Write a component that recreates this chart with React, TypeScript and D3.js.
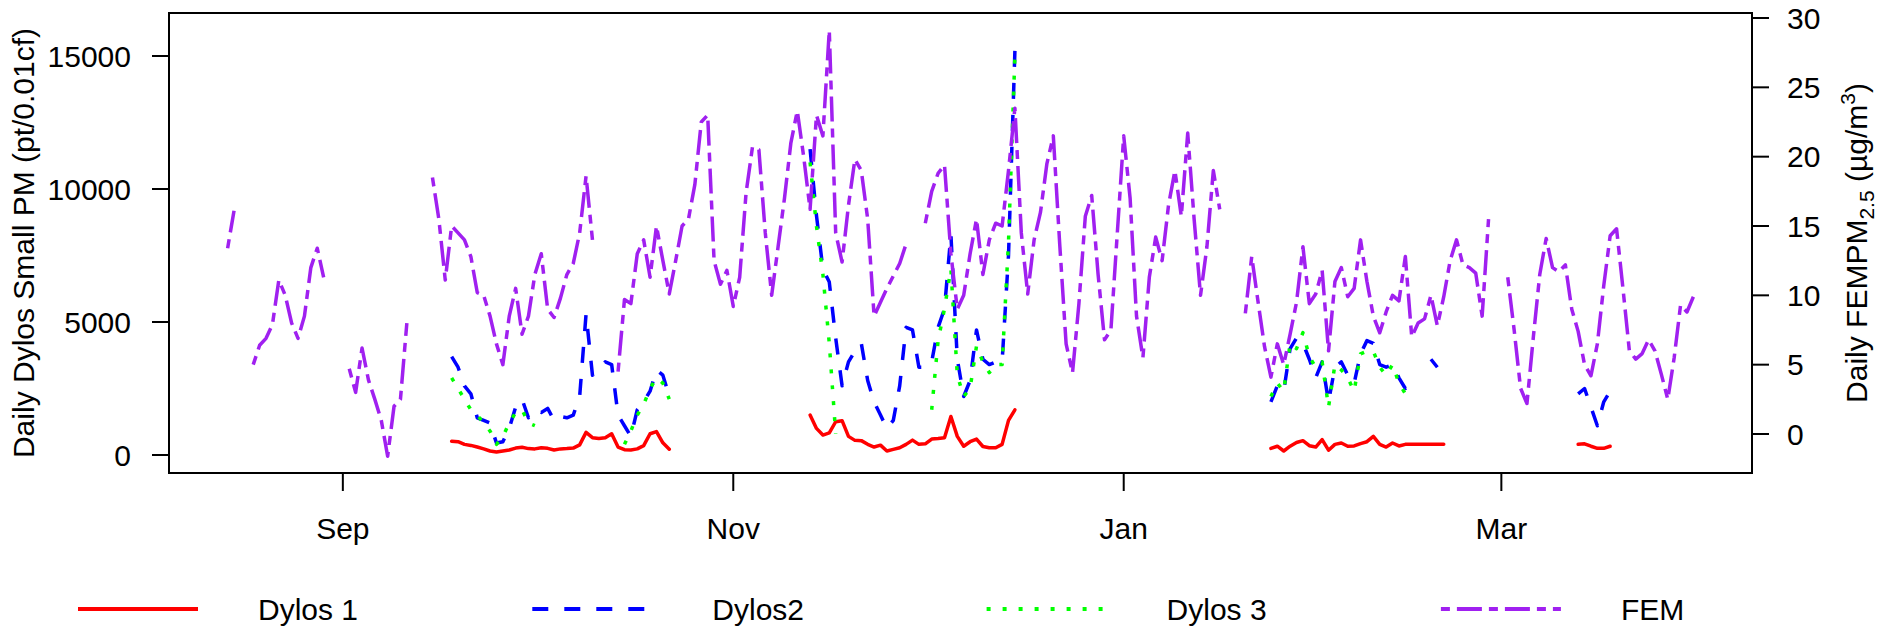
import React from 'react';
import * as d3 from 'd3';

// daily means, stored as runs of consecutive days: [first day, values]
const dylos1Runs: [string, (number | null)[]][] = [
  ['2014-09-18', [520, 500, 400, 360, 300, 230, 150, 110, 150, 190, 260, 290, 240, 230, 270, 250, 190, 230, 240, 260, 380, 850, 650, 620, 650, 800, 300, 200, 190, 230, 350, 800, 880, 460, 220]],
  ['2014-11-13', [1500, 1000, 750, 830, 1250, 1290, 700, 550, 540, 400, 300, 370, 150, 210, 270, 400, 560, 400, 420, 600, 620, 650, 1450, 700, 330, 500, 600, 320, 270, 270, 400, 1300, 1700]],
  ['2015-01-24', [250, 330, 150, 330, 470, 540, 350, 300, 580, 180, 400, 450, 330, 340, 430, 500, 700, 400, 300, 450, 340, 400, 400, 400, 400, 400, 400, 400]],
  ['2015-03-13', [400, 420, 330, 250, 250, 330]],
];

const dylos2Runs: [string, (number | null)[]][] = [
  ['2014-09-18', [3700, 3300, 2600, 2300, 1400, 1300, 1200, 450, 500, 1000, 1800, 2100, 1400, 1700, 1600, 1750, 1300, 1450, 1400, 1500, 2200, 5300, 3000, 3200, 3500, 3400, 1500, 1100, 700, 1700, 2000, 2400, 3200, 3000, 2200]],
  ['2014-11-13', [11500, 9000, 7000, 6500, 4400, 2600, 3500, 3900, 4200, 2800, 2000, 1500, 1000, 1300, 2600, 4800, 4700, 3300, 3300, 3500, 4800, 5500, 8300, 3600, 2200, 2800, 4700, 3600, 3400, 3500, 3500, 7500, 15200]],
  ['2015-01-24', [2000, 2600, 2400, 4000, 4400, 4200, 3600, 2900, 3500, 2000, 3300, 3500, 3000, 2700, 3800, 4300, 4200, 3400, 3300, 3400, 2900, 2500, 2700, 2600, null, 3600, 3300]],
  ['2015-03-13', [2300, 2500, 1800, 1100, 2000, 2400]],
];

const dylos3Runs: [string, (number | null)[]][] = [
  ['2014-09-18', [2900, 2500, 2100, 1700, 1500, 1200, 900, 400, 700, 1200, 1600, 1700, 1200, 1100]],
  ['2014-10-15', [400, 900, 1500, 1900, 2500, 2900, 2700, 2100]],
  ['2014-11-13', [11000, 8600, 6800, 4200, 800]],
  ['2014-12-02', [1700, 4300, 5500, 7000, 3000, 2200, 2500, 4100, 3500, 3100, 3400, 3400, 8000, 15000]],
  ['2015-01-24', [2200, 2700, 2400, 4200, 4000, 4600, 3700, 3300, 3500, 1800, 3400, 3200, 2900, 2400, 3800, 3900, 3900, 3300, 3000, 3400, 2700, 2300, 2400]],
];

// FEM PM2.5, ug/m3 (right axis)
const femRuns: [string, (number | null)[]][] = [
  ['2014-08-14', [13.4, 16.1]],
  ['2014-08-18', [5.0, 6.4, 6.9, 7.9, 11.1, 10.0, 8.0, 6.9, 8.5, 12.0, 13.4, 11.3]],
  ['2014-09-02', [4.7, 3.0, 6.2, 3.9, 2.5, 1.0, -1.6, 2.0, 2.5, 8.0]],
  ['2014-09-15', [18.5, 15.5, 11.1, 15.0, 14.5, 14.0, 12.8, 10.2, 10.0, 8.5, 6.5, 5.0, 8.5, 10.5, 7.2, 8.5, 11.5, 13.0, 9.0, 8.4, 9.8, 11.5, 12.3, 14.5, 18.6, 14.0]],
  ['2014-10-14', [4.5, 9.7, 9.4, 13.0, 14.0, 11.3, 15.0, 12.5, 10.1, 12.5, 15.0, 15.5, 18.0, 22.5, 23.0, 12.5, 10.8, 11.8, 9.2, 11.3, 17.4, 20.7, 20.5, 14.5, 10.0, 13.5, 17.0, 21.0, 23.3, 20.0, 16.2, 23.0, 21.5, 29.1, 14.5, 12.4, 16.5, 19.8, 19.0, 15.5, 8.5, 9.5, 10.5, 11.4, 12.3, 13.7]],
  ['2014-12-01', [15.2, 17.5, 18.8, 19.4, 13.0, 9.0, 10.0, 13.0, 15.5, 11.5, 14.0, 15.2, 15.0, 19.0, 23.5, 14.5, 10.1, 14.0, 16.0, 19.5, 21.5, 13.7, 6.5, 4.4, 9.4, 15.7, 17.2, 11.5, 6.8, 7.5, 14.5, 21.5, 17.0, 8.5, 5.5, 11.3, 14.2, 12.5, 16.5, 19.0, 15.7, 21.7, 15.5, 10.0, 13.5, 19.0, 16.2]],
  ['2015-01-20', [8.7, 12.8, 9.5, 6.3, 4.1, 6.5, 5.0, 7.2, 9.5, 13.5, 9.4, 10.1, 11.8, 6.0, 11.0, 12.0, 9.9, 10.5, 14.0, 11.0, 8.5, 7.3, 8.8, 10.0, 9.6, 12.8, 7.0, 8.0, 8.3, 10.0, 7.8, 9.9, 12.5, 14.0, 12.2, 12.0, 11.6, 8.5, 15.5]],
  ['2015-03-02', [11.3, 7.5, 3.3, 2.2, 7.0, 11.5, 14.1, 12.0, 11.7, 12.2, 9.0, 7.4, 5.0, 4.2, 6.5, 10.7, 14.3, 14.8, 10.5, 6.0, 5.4, 5.8, 6.8, 6.0, 4.3, 2.5, 5.5, 9.3, 8.8, 9.9]],
];

const firstDay = '2014-08-14';
const lastDay = '2015-03-31';
const leftTicks = [0, 5000, 10000, 15000];
const rightTicks = [0, 5, 10, 15, 20, 25, 30];
const monthTicks = ['2014-09-01', '2014-11-01', '2015-01-01', '2015-03-01'];
const monthLabels = ['Sep', 'Nov', 'Jan', 'Mar'];
const legendNames = ['Dylos 1', 'Dylos2', 'Dylos 3', 'FEM'];

const W = 1879;
const H = 630;
const box = { left: 169, right: 1752, top: 13, bottom: 473 };
const FONT = "'Liberation Sans', Arial, Helvetica, sans-serif";
const LW = 3.5;

const styles = [
  { color: '#FF0000', dash: undefined as string | undefined },
  { color: '#0000FF', dash: '16 16' },
  { color: '#00FF00', dash: '4 12' },
  { color: '#A020F0', dash: '9 7 25 7' },
];

const parse = d3.utcParse('%Y-%m-%d');

type Pt = { date: Date; v: number | null };
const expand = (runs: [string, (number | null)[]][]): Pt[][] =>
  runs.map(([start, vals]) => {
    const s = parse(start) as Date;
    return vals.map((v, i) => ({ date: d3.utcDay.offset(s, i), v }));
  });

export default function App() {
  // R style 4% padding on the date range
  const d0 = parse(firstDay) as Date;
  const d1 = parse(lastDay) as Date;
  const pad = (d1.getTime() - d0.getTime()) * 0.04;
  const x = d3
    .scaleUtc()
    .domain([new Date(d0.getTime() - pad), new Date(d1.getTime() + pad)])
    .range([box.left, box.right]);
  const yL = d3.scaleLinear().domain([0, 15000]).range([455, 56]);
  const yR = d3.scaleLinear().domain([0, 30]).range([434, 18]);

  const mkLine = (y: d3.ScaleLinear<number, number>) =>
    d3
      .line<Pt>()
      .defined((d) => d.v != null)
      .x((d) => x(d.date))
      .y((d) => y(d.v as number));

  const lineL = mkLine(yL);
  const lineR = mkLine(yR);

  const series = [
    { runs: expand(dylos1Runs), line: lineL, st: styles[0] },
    { runs: expand(dylos2Runs), line: lineL, st: styles[1] },
    { runs: expand(dylos3Runs), line: lineL, st: styles[2] },
    { runs: expand(femRuns), line: lineR, st: styles[3] },
  ];

  const legendY = 609;
  const legendX0 = 78;
  const legendStep = 454.3;

  return (
    <svg
      width={W}
      height={H}
      style={{ position: 'absolute', left: 0, top: 0, background: '#fff' }}
      fontFamily={FONT}
      fontSize={30}
    >
      <rect x={0} y={0} width={W} height={H} fill="#fff" />

      {series.map((s, si) =>
        s.runs.map((run, ri) => (
          <path
            key={`${si}-${ri}`}
            d={s.line(run) || ''}
            fill="none"
            stroke={s.st.color}
            strokeWidth={LW}
            strokeDasharray={s.st.dash}
            strokeLinejoin="round"
            strokeLinecap={s.st.dash ? 'butt' : 'round'}
          />
        ))
      )}

      <rect
        x={box.left}
        y={box.top}
        width={box.right - box.left}
        height={box.bottom - box.top}
        fill="none"
        stroke="#000"
        strokeWidth={2}
      />

      {/* left axis */}
      {leftTicks.map((t) => (
        <g key={`l${t}`}>
          <line x1={box.left - 17} x2={box.left} y1={yL(t)} y2={yL(t)} stroke="#000" strokeWidth={2} />
          <text x={131} y={yL(t)} dy="0.36em" textAnchor="end" fill="#000">
            {t}
          </text>
        </g>
      ))}
      <text
        transform={`translate(34,${(box.top + box.bottom) / 2}) rotate(-90)`}
        textAnchor="middle"
        fill="#000"
      >
        Daily Dylos Small PM (pt/0.01cf)
      </text>

      {/* right axis */}
      {rightTicks.map((t) => (
        <g key={`r${t}`}>
          <line x1={box.right} x2={box.right + 17} y1={yR(t)} y2={yR(t)} stroke="#000" strokeWidth={2} />
          <text x={1787} y={yR(t)} dy="0.36em" textAnchor="start" fill="#000">
            {t}
          </text>
        </g>
      ))}
      <text
        transform={`translate(1867,${(box.top + box.bottom) / 2}) rotate(-90)`}
        textAnchor="middle"
        fill="#000"
      >
        <tspan>Daily FEMPM</tspan>
        <tspan fontSize={21} dy={7}>2.5</tspan>
        <tspan dy={-7}> (µg/m</tspan>
        <tspan fontSize={21} dy={-12}>3</tspan>
        <tspan dy={12}>)</tspan>
      </text>

      {/* date axis */}
      {monthTicks.map((m, i) => {
        const px = x(parse(m) as Date);
        return (
          <g key={m}>
            <line x1={px} x2={px} y1={box.bottom} y2={box.bottom + 18} stroke="#000" strokeWidth={2} />
            <text x={px} y={539} textAnchor="middle" fill="#000">
              {monthLabels[i]}
            </text>
          </g>
        );
      })}

      {/* legend */}
      {legendNames.map((name, i) => {
        const lx = legendX0 + i * legendStep;
        const st = styles[i];
        return (
          <g key={name}>
            <line
              x1={lx}
              x2={lx + 120}
              y1={legendY}
              y2={legendY}
              stroke={st.color}
              strokeWidth={LW + 0.5}
              strokeDasharray={st.dash}
              strokeLinecap="butt"
            />
            <text x={lx + 180} y={legendY + 11} fill="#000">
              {name}
            </text>
          </g>
        );
      })}
    </svg>
  );
}
